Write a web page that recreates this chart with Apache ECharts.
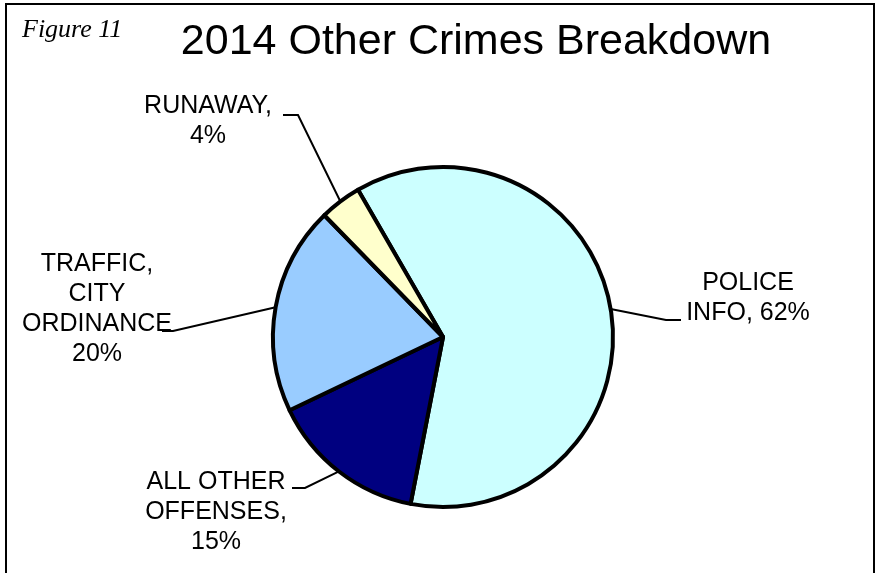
<!DOCTYPE html>
<html>
<head>
<meta charset="utf-8">
<script src="https://cdn.jsdelivr.net/npm/echarts@6/dist/echarts.min.js"></script>
<style>html,body{margin:0;padding:0;background:#fff}#c{width:877px;height:573px}</style>
</head>
<body>
<div id="c"></div>
<script>
// ---- data ----
const categories = ['POLICE INFO', 'ALL OTHER OFFENSES', 'TRAFFIC, CITY ORDINANCE', 'RUNAWAY'];
const values = [62, 15, 20, 4];
const labelNames = ['POLICE\nINFO,', 'ALL OTHER\nOFFENSES,', 'TRAFFIC,\nCITY\nORDINANCE', 'RUNAWAY,'];
const labelSeparators = [' ', '\n', '\n', '\n'];
const colors = ['#CCFFFF', '#000080', '#99CCFF', '#FFFFCC'];
const titleText = '2014 Other Crimes Breakdown';
const figureText = 'Figure 11';

// ---- layout (label block centres and leader-line elbows) ----
const labelCenters = [[748, 298], [216, 512], [97, 309], [208, 121]];
const leaderElbows = [[666, 320, 681], [305, 488, 292], [173, 331, 162], [298, 115, 283]];

const chart = echarts.init(document.getElementById('c'), null, {renderer: 'canvas'});
const FONT = "'Liberation Sans', Arial, sans-serif";

chart.setOption({
  backgroundColor: '#ffffff',
  animation: false,
  title: [
    {
      text: titleText, left: 471, top: 16, textAlign: 'center',
      textStyle: {fontFamily: FONT, fontSize: 43, fontWeight: 'normal', color: '#000'}
    },
    {
      text: figureText, left: 17, top: 12,
      textStyle: {fontFamily: "'Liberation Serif', 'Times New Roman', serif", fontStyle: 'italic', fontSize: 26, fontWeight: 'normal', color: '#000'}
    }
  ],
  graphic: [{
    type: 'rect', shape: {x: 6, y: 4, width: 868, height: 620},
    style: {fill: 'none', stroke: '#000', lineWidth: 2}, silent: true
  }],
  series: [{
    type: 'pie',
    center: [443, 337],
    radius: 170,
    startAngle: 120,
    clockwise: true,
    avoidLabelOverlap: false,
    itemStyle: {borderColor: '#000', borderWidth: 4},
    label: {
      show: true, position: 'outside', color: '#000',
      fontFamily: FONT, fontSize: 25, lineHeight: 30, align: 'center',
      formatter: p => labelNames[p.dataIndex] + labelSeparators[p.dataIndex] + p.value + '%'
    },
    labelLine: {show: true, length: 20, length2: 10, lineStyle: {color: '#000', width: 2}},
    labelLayout: function (params) {
      const i = params.dataIndex;
      const p0 = params.labelLinePoints ? params.labelLinePoints[0] : null;
      const e = leaderElbows[i];
      const res = {x: labelCenters[i][0], y: labelCenters[i][1], align: 'center', verticalAlign: 'middle'};
      if (p0) res.labelLinePoints = [[p0[0], p0[1]], [e[0], e[1]], [e[2], e[1]]];
      return res;
    },
    emphasis: {disabled: true},
    data: categories.map((c, i) => ({name: c, value: values[i], itemStyle: {color: colors[i]}}))
  }]
});
</script>
</body>
</html>
